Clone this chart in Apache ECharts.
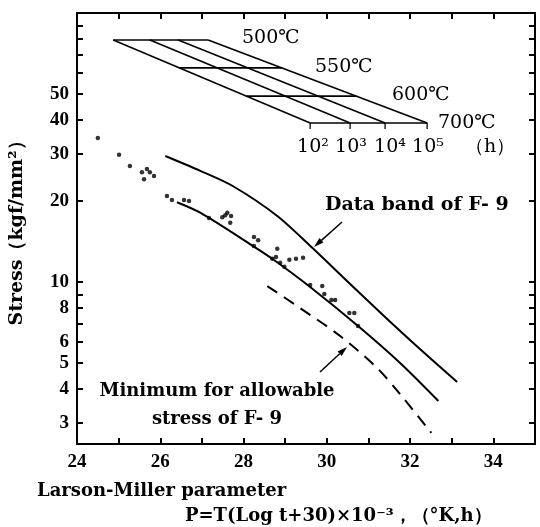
<!DOCTYPE html>
<html>
<head>
<meta charset="utf-8">
<script src="https://cdn.jsdelivr.net/npm/echarts@6/dist/echarts.min.js"></script>
<style>
  html, body { margin: 0; padding: 0; background: #fff; }
  #chart { width: 540px; height: 527px; }
</style>
</head>
<body>
<div id="chart"></div>
<script>
// Larson-Miller parameter P (x10^-3) against stress (kgf/mm2)
const xLabelTicks = [24, 26, 28, 30, 32, 34];
const yLabelTicks = [3, 4, 5, 6, 8, 10, 20, 30, 40, 50];
const yTicks = [3, 4, 5, 6, 7, 8, 9, 10, 20, 30, 40, 50, 60, 70, 80, 90];

// test points
const pointP = [24.50, 25.01, 25.27, 25.56, 25.68, 25.75, 25.61, 25.85, 26.16, 26.28,
  26.57, 26.69, 27.17, 27.49, 27.56, 27.61, 27.70, 27.68, 28.25, 28.35,
  28.25, 28.81, 28.69, 28.78, 28.88, 28.98, 29.10, 29.26, 29.43, 29.60,
  29.89, 29.94, 30.11, 30.20, 30.54, 30.66, 30.75];
const pointStress = [34.3, 29.7, 27.0, 25.6, 26.3, 25.6, 24.1, 24.8, 20.9, 20.2,
  20.2, 20.0, 17.3, 17.4, 17.7, 18.1, 17.6, 16.6, 14.7, 14.3,
  13.6, 13.3, 12.2, 12.4, 11.8, 11.4, 12.1, 12.2, 12.3, 9.75,
  9.66, 9.03, 8.57, 8.57, 7.67, 7.67, 6.86];

// data band of F-9
const upperP = [26.12, 26.96, 27.75, 28.81, 29.65, 30.56, 31.45, 32.29, 33.13];
const upperStress = [29.4, 25.9, 22.7, 17.6, 13.4, 9.83, 7.29, 5.54, 4.25];
const lowerP = [26.40, 26.96, 28.23, 28.69, 29.60, 30.75, 31.76, 32.68];
const lowerStress = [19.8, 18.1, 13.6, 12.2, 9.58, 6.86, 5.00, 3.61];

// minimum for allowable stress
const minP = [28.57, 29.36, 30.32, 31.21, 31.76, 32.51];
const minStress = [9.66, 8.0, 6.30, 4.79, 3.83, 2.75];

// temperature / time nomograph
const nomoTemps = ['500℃', '550℃', '600℃', '700℃'];
const nomoRowStress = [79.4, 62.5, 49.1, 39.0];
const nomoRowFrom = [24.87, 26.46, 28.07, 29.60];
const nomoRowTo = [27.15, 28.92, 30.71, 32.41];
const nomoTimes = ['10²', '10³', '10⁴', '10⁵'];
const nomoLineTop = [24.87, 25.75, 26.43, 27.15];
const nomoLineBottom = [29.60, 30.56, 31.40, 32.41];

const zip = (xs, ys) => xs.map((x, i) => [x, ys[i]]);

const numFont = { fontFamily: 'Liberation Serif', fontWeight: 'bold', fontSize: 19, color: '#000' };
const textFont = 'DejaVu Serif';

function lineSeries(data, dashed) {
  return {
    type: 'line',
    data,
    smooth: 0.3,
    symbol: 'none',
    silent: true,
    lineStyle: { color: '#000', width: 2, type: dashed ? [12, 8] : 'solid' }
  };
}

function segSeries(a, b) {
  return {
    type: 'line',
    data: [a, b],
    symbol: 'none',
    silent: true,
    lineStyle: { color: '#000', width: 1.6 }
  };
}

function text(str, x, y, size, align, weight) {
  return {
    type: 'text',
    x, y,
    style: {
      text: str,
      fill: '#000',
      font: `${weight || 'bold'} ${size}px "${textFont}"`,
      align: align || 'left',
      verticalAlign: 'middle'
    }
  };
}

function arrow(x1, y1, x2, y2) {
  const dx = x2 - x1, dy = y2 - y1;
  const len = Math.hypot(dx, dy);
  const ux = dx / len, uy = dy / len;
  const bx = x2 - ux * 10, by = y2 - uy * 10;
  return {
    type: 'group',
    children: [
      { type: 'line', shape: { x1, y1, x2: bx, y2: by }, style: { stroke: '#000', lineWidth: 1.5 } },
      {
        type: 'polygon',
        shape: { points: [[x2, y2], [bx - uy * 3, by + ux * 3], [bx + uy * 3, by - ux * 3]] },
        style: { fill: '#000' }
      }
    ]
  };
}

const chart = echarts.init(document.getElementById('chart'));

const axisLine = { lineStyle: { color: '#000', width: 2 } };
const tickStyle = { inside: true, length: 6, lineStyle: { color: '#000', width: 2 } };

const series = [
  {
    type: 'scatter',
    data: zip(pointP, pointStress),
    symbolSize: 4.5,
    itemStyle: { color: '#000' },
    silent: true
  },
  lineSeries(zip(upperP, upperStress), false),
  lineSeries(zip(lowerP, lowerStress), false),
  lineSeries(zip(minP, minStress), true)
];

nomoRowStress.forEach((s, i) => {
  series.push(segSeries([nomoRowFrom[i], s], [nomoRowTo[i], s]));
});
const nomoTop = nomoRowStress[0];
const nomoBottom = nomoRowStress[nomoRowStress.length - 1];
nomoLineTop.forEach((x, i) => {
  series.push(segSeries([x, nomoTop], [nomoLineBottom[i], nomoBottom]));
});
series.push({
  type: 'scatter',
  data: nomoLineBottom.map((x) => [x, nomoBottom]),
  symbol: 'rect',
  symbolSize: [1.6, 6],
  symbolOffset: [0, 3],
  itemStyle: { color: '#000' },
  silent: true
});

chart.setOption({
  animation: false,
  backgroundColor: '#fff',
  grid: { left: 77, right: 5, top: 13, bottom: 83 },
  xAxis: [
    {
      type: 'value',
      min: 24,
      max: 35,
      interval: 1,
      axisLine,
      axisTick: tickStyle,
      splitLine: { show: false },
      axisLabel: Object.assign({
        margin: 9,
        formatter: (v) => (xLabelTicks.includes(v) ? String(v) : '')
      }, numFont)
    },
    {
      type: 'value',
      position: 'top',
      min: 24,
      max: 35,
      interval: 1,
      axisLine,
      axisTick: tickStyle,
      splitLine: { show: false },
      axisLabel: { show: false }
    }
  ],
  yAxis: [
    {
      type: 'log',
      logBase: 10,
      min: 2.5,
      max: 100,
      axisLine,
      axisTick: Object.assign({ customValues: yTicks }, tickStyle),
      splitLine: { show: false },
      axisLabel: Object.assign({
        margin: 8,
        customValues: yLabelTicks,
        formatter: (v) => String(Math.round(v))
      }, numFont),
      name: 'Stress（kgf/mm²）',
      nameLocation: 'middle',
      nameGap: 50,
      nameRotate: 90,
      nameTextStyle: { fontFamily: textFont, fontWeight: 'bold', fontSize: 19, color: '#000' }
    },
    {
      type: 'log',
      logBase: 10,
      position: 'right',
      min: 2.5,
      max: 100,
      axisLine,
      axisTick: Object.assign({ customValues: yTicks }, tickStyle),
      splitLine: { show: false },
      axisLabel: { show: false }
    }
  ],
  series,
  graphic: [
    text(nomoTemps[0], 242, 38, 19, 'left', 'normal'),
    text(nomoTemps[1], 315, 67, 19, 'left', 'normal'),
    text(nomoTemps[2], 392, 95, 19, 'left', 'normal'),
    text(nomoTemps[3], 438, 123, 19, 'left', 'normal'),
    text(nomoTimes[0], 313, 147, 19, 'center', 'normal'),
    text(nomoTimes[1], 351, 147, 19, 'center', 'normal'),
    text(nomoTimes[2], 390, 147, 19, 'center', 'normal'),
    text(nomoTimes[3], 428, 147, 19, 'center', 'normal'),
    text('（h）', 490, 147, 19, 'center', 'normal'),
    text('Data band of F- 9', 325, 205, 19),
    text('Minimum for allowable', 217, 391, 18, 'center'),
    text('stress of F- 9', 217, 419, 18, 'center'),
    text('Larson-Miller parameter', 37, 491, 18),
    text('P=T(Log t+30)×10⁻³，（°K,h）', 185, 516, 18),
    arrow(342, 222, 314, 247),
    arrow(320, 372, 347, 347)
  ]
});
</script>
</body>
</html>
